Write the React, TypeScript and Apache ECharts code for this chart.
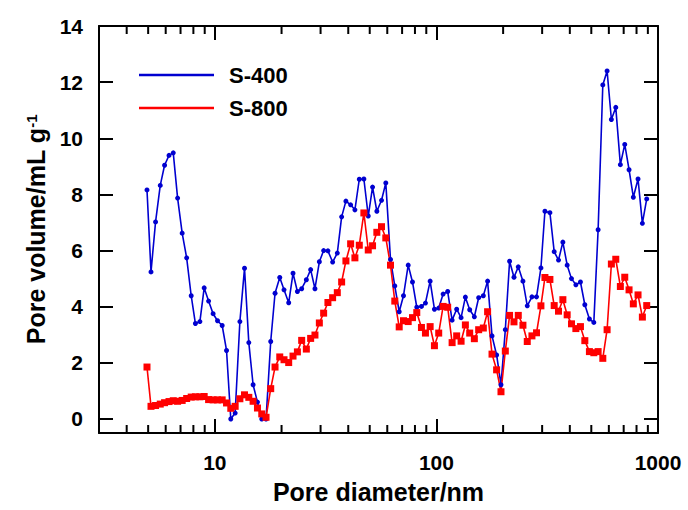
import React, { useEffect, useRef } from "react";
import * as echarts from "echarts";

// Pore diameter (nm), shared by both series
const poreDiameter = [
  4.94, 5.15, 5.40, 5.67, 5.93, 6.21, 6.49, 6.79, 7.12, 7.46,
  7.82, 8.17, 8.56, 8.95, 9.37, 9.82, 10.28, 10.79, 11.29, 11.80,
  12.35, 12.97, 13.61, 14.23, 14.88, 15.57, 16.28, 17.02, 17.87, 18.69,
  19.63, 20.52, 21.54, 22.53, 23.58, 24.65, 25.88, 27.06, 28.30, 29.62,
  30.97, 32.38, 34.00, 35.70, 37.34, 39.04, 41.00, 42.86, 44.86, 47.05,
  49.24, 51.49, 53.84, 56.52, 59.09, 62.05, 64.88, 67.92, 71.02, 74.57,
  77.97, 81.53, 85.59, 89.22, 93.67, 97.95, 102.4, 107.2, 112.4, 117.7,
  123.4, 129.2, 135.1, 141.3, 148.3, 155.1, 162.8, 170.2, 178.2, 186.9,
  195.6, 204.6, 213.9, 223.9, 234.1, 245.7, 257.0, 269.8, 283.0, 296.2,
  308.8, 325.2, 340.0, 355.6, 372.1, 389.1, 406.9, 425.9, 446.7, 467.5,
  490.3, 513.3, 536.7, 563.5, 589.2, 616.0, 644.8, 676.3, 707.9, 740.2,
  773.9, 812.6, 850.1, 889.4,
];

// S-400 pore volume (mL/g)
const s400 = [
  8.16, 5.24, 7.02, 8.32, 9.04, 9.39, 9.48, 7.87, 6.62, 5.74,
  4.39, 3.40, 3.47, 4.67, 4.20, 3.75, 3.50, 3.33, 2.44, 0.0,
  0.21, 3.47, 5.37, 2.72, 1.22, 0.6, 0.0, 0.0, 2.76, 4.48,
  5.04, 4.60, 4.14, 5.19, 4.54, 4.64, 4.96, 5.32, 4.64, 5.60,
  6.00, 5.99, 5.59, 5.91, 7.20, 7.76, 7.63, 7.45, 8.54, 8.55,
  7.23, 8.26, 7.40, 7.79, 8.41, 5.68, 4.74, 3.82, 4.39, 5.48,
  4.88, 3.98, 4.01, 4.13, 4.91, 3.91, 3.95, 4.45, 4.54, 3.52,
  3.91, 3.61, 4.34, 3.89, 3.64, 4.32, 4.39, 4.91, 2.96, 2.28,
  1.22, 3.18, 5.62, 5.05, 5.42, 4.91, 4.03, 4.35, 4.35, 5.38,
  7.40, 7.35, 5.96, 5.66, 6.30, 5.48, 5.00, 4.78, 4.88, 4.07,
  3.56, 3.44, 6.74, 11.90, 12.40, 10.67, 11.10, 9.06, 9.78, 8.88,
  7.90, 8.55, 6.97, 7.84,
];

// S-800 pore volume (mL/g)
const s800 = [
  1.85, 0.45, 0.48, 0.53, 0.58, 0.62, 0.65, 0.63, 0.66, 0.73,
  0.78, 0.79, 0.79, 0.80, 0.69, 0.68, 0.68, 0.68, 0.57, 0.38,
  0.45, 0.72, 0.86, 0.77, 0.63, 0.39, 0.18, 0.06, 1.08, 1.85,
  2.21, 2.11, 2.01, 2.24, 2.39, 2.80, 2.49, 2.87, 2.99, 3.42,
  3.77, 4.15, 4.32, 4.50, 4.88, 5.63, 6.24, 5.74, 6.19, 7.34,
  6.02, 6.17, 6.65, 6.85, 6.45, 5.48, 4.20, 3.28, 3.50, 3.47,
  3.61, 3.79, 3.26, 3.06, 3.29, 2.61, 3.06, 4.01, 3.98, 2.72,
  2.96, 2.77, 3.35, 3.06, 2.86, 3.18, 3.24, 3.82, 2.31, 1.75,
  0.97, 2.42, 3.69, 3.46, 3.69, 3.34, 2.76, 2.96, 3.07, 4.03,
  5.04, 4.97, 4.04, 3.84, 4.25, 3.71, 3.39, 3.22, 3.29, 2.79,
  2.40, 2.36, 2.40, 2.16, 3.18, 5.52, 5.69, 4.72, 5.05, 4.60,
  4.10, 4.42, 3.63, 4.04,
];

const seriesNames = ["S-400", "S-800"];
const yTickValues = [0, 2, 4, 6, 8, 10, 12, 14];
const xMajorLabels = [10, 100, 1000];
const xMinorTicks = [
  4, 5, 6, 7, 8, 9, 20, 30, 40, 50, 60, 70, 80, 90,
  200, 300, 400, 500, 600, 700, 800, 900,
];

const FONT = '"Liberation Sans", Arial, sans-serif';
const X_MIN = 3;
const X_MAX = 1000;
const Y_MIN = -0.5;
const Y_MAX = 14;

export default function App() {
  const ref = useRef<HTMLDivElement>(null);

  useEffect(() => {
    if (!ref.current) return;
    const chart = echarts.init(ref.current, undefined, { renderer: "svg" });

    const axisLineStyle = { color: "#000", width: 2 };
    const baseX = {
      type: "log" as const,
      logBase: 10,
      min: X_MIN,
      max: X_MAX,
      gridIndex: 0,
      splitLine: { show: false },
      axisLine: { show: true, onZero: false, lineStyle: axisLineStyle },
      axisTick: { show: true, inside: true, length: 14, lineStyle: { color: "#000", width: 2 } },
    };
    const baseY = {
      type: "value" as const,
      min: Y_MIN,
      max: Y_MAX,
      splitLine: { show: false },
      axisLine: { show: true, onZero: false, lineStyle: axisLineStyle },
      axisTick: {
        show: true,
        inside: true,
        length: 14,
        customValues: yTickValues,
        lineStyle: { color: "#000", width: 2 },
      },
    };

    const line = (name: string, ys: number[], color: string, symbol: string, size: number) => ({
      name,
      type: "line",
      xAxisIndex: 0,
      yAxisIndex: 0,
      data: poreDiameter.map((d, i) => [d, ys[i]]),
      symbol,
      symbolSize: size,
      showSymbol: true,
      lineStyle: { color, width: 1.6 },
      itemStyle: { color, borderWidth: 0 },
      emphasis: { disabled: true },
    });

    chart.setOption({
      animation: false,
      backgroundColor: "#fff",
      grid: { left: 99, right: 30, top: 26, bottom: 77, containLabel: false },
      legend: {
        data: seriesNames,
        orient: "vertical",
        left: 134,
        top: 59,
        icon: "rect",
        itemWidth: 75,
        itemHeight: 2.5,
        itemGap: 11,
        textStyle: {
          fontFamily: FONT,
          fontWeight: "bold",
          fontSize: 22,
          color: "#000",
          padding: [0, 0, 0, 10],
        },
        selectedMode: false,
      },
      xAxis: [
        {
          ...baseX,
          position: "bottom",
          name: "Pore diameter/nm",
          nameLocation: "middle",
          nameGap: 46,
          nameTextStyle: { fontFamily: FONT, fontWeight: "bold", fontSize: 25, color: "#000" },
          axisLabel: {
            show: true,
            margin: 19,
            fontFamily: FONT,
            fontWeight: "bold",
            fontSize: 21,
            color: "#000",
            formatter: (v: number) => (xMajorLabels.indexOf(Math.round(v)) >= 0 ? String(Math.round(v)) : ""),
          },
        },
        {
          ...baseX,
          position: "top",
          axisLabel: { show: false },
        },
      ],
      yAxis: [
        {
          ...baseY,
          position: "left",
          name: "{a|Pore volume/mL g}{b|-1}",
          nameLocation: "middle",
          nameGap: 50,
          nameRotate: 90,
          nameTextStyle: {
            color: "#000",
            rich: {
              a: { fontFamily: FONT, fontWeight: "bold", fontSize: 25, color: "#000" },
              b: { fontFamily: FONT, fontWeight: "bold", fontSize: 15, color: "#000", verticalAlign: "top" },
            },
          },
          axisLabel: {
            show: true,
            margin: 16,
            customValues: yTickValues,
            fontFamily: FONT,
            fontWeight: "bold",
            fontSize: 21,
            color: "#000",
          },
        },
        {
          ...baseY,
          position: "right",
          axisLabel: { show: false },
        },
      ],
      series: [
        line(seriesNames[0], s400, "#0000D0", "circle", 5),
        line(seriesNames[1], s800, "#FF0000", "rect", 7),
        {
          type: "custom",
          name: "minorTicks",
          xAxisIndex: 0,
          yAxisIndex: 0,
          silent: true,
          clip: false,
          data: xMinorTicks.map((v) => [v, Y_MIN]),
          encode: { x: 0, y: 1 },
          renderItem: (_params: any, api: any) => {
            const v = api.value(0);
            const pb = api.coord([v, Y_MIN]);
            const pt = api.coord([v, Y_MAX]);
            const st = { stroke: "#000", lineWidth: 2 };
            return {
              type: "group",
              children: [
                { type: "line", shape: { x1: pb[0], y1: pb[1], x2: pb[0], y2: pb[1] - 8 }, style: st },
                { type: "line", shape: { x1: pt[0], y1: pt[1], x2: pt[0], y2: pt[1] + 8 }, style: st },
              ],
            };
          },
        },
      ],
    });

    return () => chart.dispose();
  }, []);

  return (
    <div
      ref={ref}
      style={{ position: "fixed", left: 0, top: 0, width: 688, height: 510, background: "#fff" }}
    />
  );
}
